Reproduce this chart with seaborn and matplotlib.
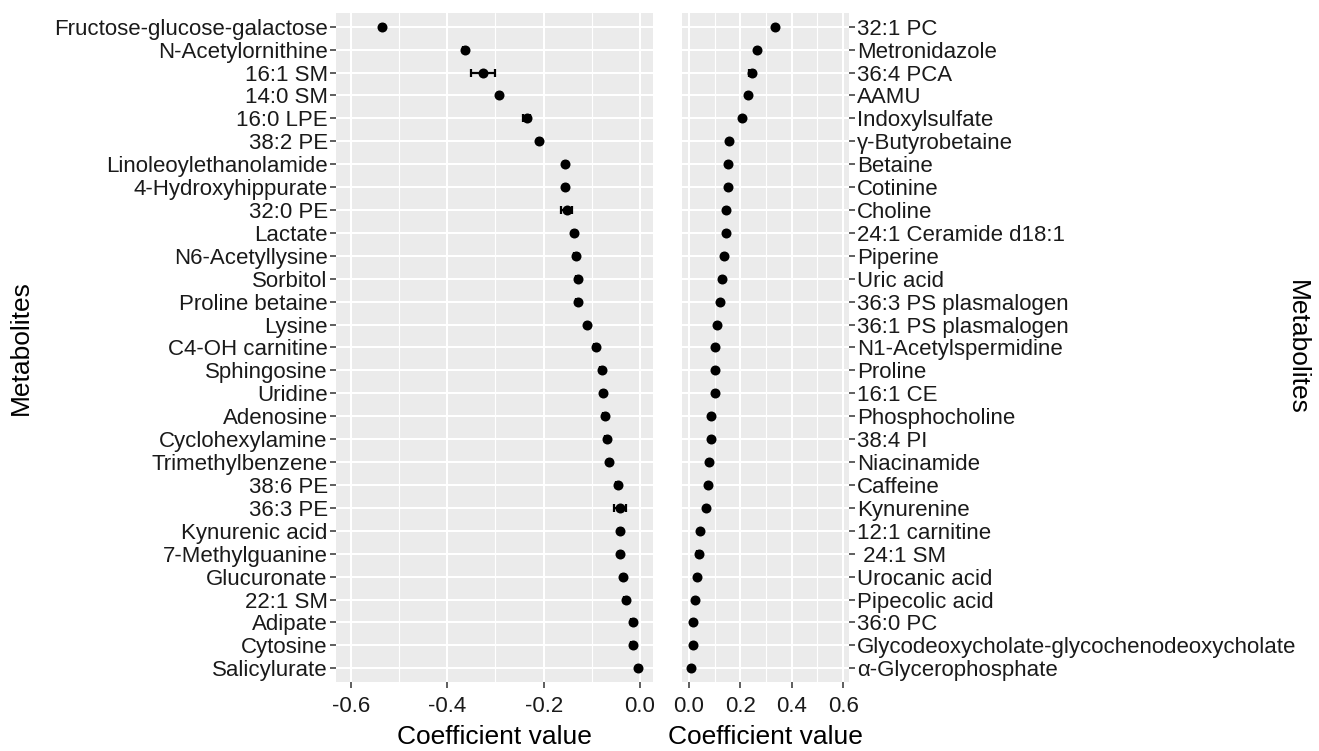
import numpy as np
import pandas as pd
import matplotlib
matplotlib.use("Agg")
import matplotlib.pyplot as plt
import seaborn as sns
from matplotlib.ticker import MultipleLocator

# -----------------------------
# Data
# -----------------------------
neg_names = [
    "Fructose-glucose-galactose", "N-Acetylornithine", "16:1 SM", "14:0 SM",
    "16:0 LPE", "38:2 PE", "Linoleoylethanolamide", "4-Hydroxyhippurate",
    "32:0 PE", "Lactate", "N6-Acetyllysine", "Sorbitol", "Proline betaine",
    "Lysine", "C4-OH carnitine", "Sphingosine", "Uridine", "Adenosine",
    "Cyclohexylamine", "Trimethylbenzene", "38:6 PE", "36:3 PE",
    "Kynurenic acid", "7-Methylguanine", "Glucuronate", "22:1 SM",
    "Adipate", "Cytosine", "Salicylurate",
]
neg_coef = [
    -0.535, -0.364, -0.326, -0.292, -0.235, -0.209, -0.155, -0.155,
    -0.152, -0.136, -0.133, -0.129, -0.129, -0.110, -0.092, -0.079,
    -0.076, -0.073, -0.069, -0.064, -0.046, -0.041, -0.041, -0.041,
    -0.035, -0.030, -0.015, -0.015, -0.004,
]
neg_err = [
    0.003, 0.003, 0.025, 0.003, 0.007, 0.003, 0.003, 0.003,
    0.011, 0.003, 0.005, 0.003, 0.003, 0.003, 0.003, 0.003,
    0.003, 0.003, 0.003, 0.003, 0.003, 0.012, 0.003, 0.003,
    0.003, 0.003, 0.003, 0.003, 0.003,
]

pos_names = [
    "32:1 PC", "Metronidazole", "36:4 PCA", "AAMU", "Indoxylsulfate",
    "\u03b3-Butyrobetaine", "Betaine", "Cotinine", "Choline",
    "24:1 Ceramide d18:1", "Piperine", "Uric acid", "36:3 PS plasmalogen",
    "36:1 PS plasmalogen", "N1-Acetylspermidine", "Proline", "16:1 CE",
    "Phosphocholine", "38:4 PI", "Niacinamide", "Caffeine", "Kynurenine",
    "12:1 carnitine", " 24:1 SM", "Urocanic acid", "Pipecolic acid",
    "36:0 PC", "Glycodeoxycholate-glycochenodeoxycholate",
    "\u03b1-Glycerophosphate",
]
pos_coef = [
    0.335, 0.264, 0.244, 0.229, 0.208, 0.157, 0.151, 0.151, 0.144,
    0.144, 0.137, 0.129, 0.122, 0.109, 0.101, 0.101, 0.101, 0.086,
    0.086, 0.079, 0.074, 0.066, 0.045, 0.039, 0.030, 0.023, 0.014,
    0.014, 0.008,
]
pos_err = [
    0.003, 0.003, 0.011, 0.003, 0.003, 0.003, 0.003, 0.003, 0.003,
    0.003, 0.003, 0.003, 0.003, 0.003, 0.003, 0.003, 0.003, 0.003,
    0.003, 0.003, 0.003, 0.003, 0.003, 0.008, 0.003, 0.003, 0.003,
    0.003, 0.003,
]

neg = pd.DataFrame({"name": neg_names, "coef": neg_coef, "err": neg_err})
pos = pd.DataFrame({"name": pos_names, "coef": pos_coef, "err": pos_err})

# -----------------------------
# Style (ggplot-like grey panel)
# -----------------------------
sns.set_theme(style="darkgrid", rc={
    "axes.facecolor": "#EBEBEB",
    "grid.color": "white",
    "axes.edgecolor": "#EBEBEB",
})
plt.rcParams["font.family"] = ["Liberation Sans", "DejaVu Sans"]

fig = plt.figure(figsize=(13.19, 7.51), dpi=100)
ax1 = fig.add_axes([336 / 1319, 69 / 751, 317 / 1319, 669 / 751])
ax2 = fig.add_axes([682 / 1319, 69 / 751, 167 / 1319, 669 / 751])

TICK_FS = 16
LAB_FS = 19


def draw_panel(ax, df, xlim):
    n = len(df)
    ax.errorbar(df["coef"], np.arange(n), xerr=df["err"], fmt="none",
                ecolor="black", elinewidth=1.6, capsize=3, capthick=1.6,
                zorder=3)
    sns.stripplot(data=df, x="coef", y="name", jitter=False, color="black",
                  size=7.2, linewidth=0, ax=ax, zorder=4)
    ax.set_xlim(*xlim)
    ax.set_ylim(n - 1 + 0.6, -0.6)
    ax.xaxis.set_major_locator(MultipleLocator(0.2))
    ax.xaxis.set_minor_locator(MultipleLocator(0.1))
    ax.grid(True, which="major", axis="both", color="white", linewidth=1.5)
    ax.grid(True, which="minor", axis="x", color="white", linewidth=0.8)
    ax.tick_params(axis="both", which="major", length=4, width=1.1,
                   color="#333333", labelsize=TICK_FS, labelcolor="#1a1a1a",
                   pad=2, bottom=True, left=True)
    ax.tick_params(axis="x", which="major", pad=6)
    ax.tick_params(axis="x", which="minor", length=0)
    ax.set_xticklabels([f"{v:.1f}" for v in ax.get_xticks()])
    for s in ax.spines.values():
        s.set_visible(False)
    ax.set_xlabel("Coefficient value", fontsize=LAB_FS, color="black",
                  labelpad=6)


draw_panel(ax1, neg, (-0.631, 0.027))
draw_panel(ax2, pos, (-0.027, 0.623))

ax1.set_ylabel("Metabolites", fontsize=LAB_FS, color="black")
ax1.yaxis.set_label_coords((33 - 336) / 317, 0.5)

ax2.yaxis.tick_right()
ax2.tick_params(axis="y", right=True, left=False)
ax2.yaxis.set_label_position("right")
ax2.set_ylabel("Metabolites", fontsize=LAB_FS, color="black", rotation=-90)
ax2.yaxis.set_label_coords((1300 + 9 - 682) / 167, 0.5)

fig.savefig("out.png", dpi=100)
